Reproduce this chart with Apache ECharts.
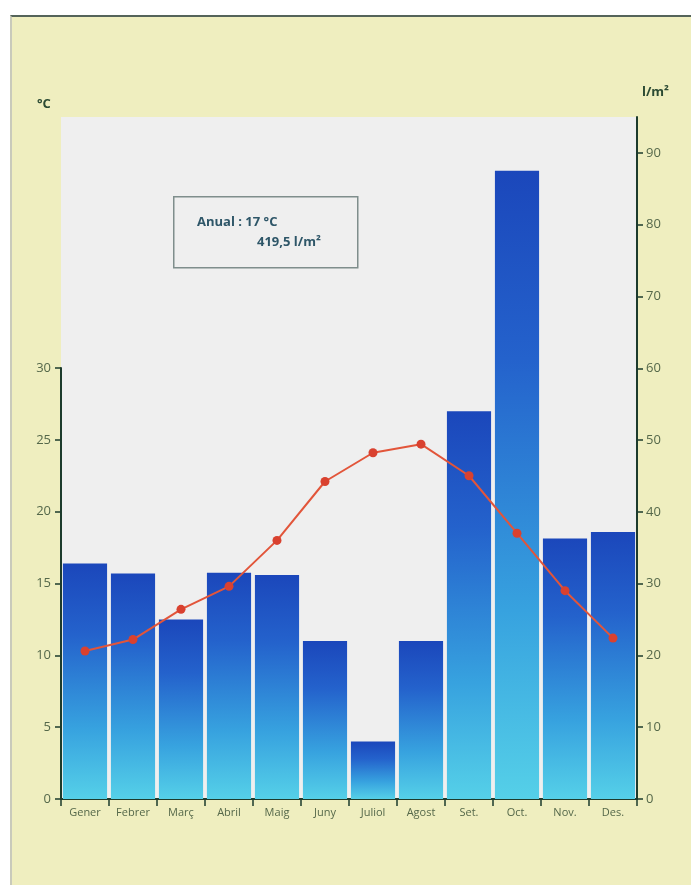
<!DOCTYPE html>
<html>
<head>
<meta charset="utf-8">
<script src="https://cdn.jsdelivr.net/npm/echarts@6/dist/echarts.min.js"></script>
<style>
  html, body { margin: 0; padding: 0; background: #ffffff; }
  #bg { position: absolute; left: 10px; top: 15px; width: 681px; height: 870px;
        background: #efeebf; border-top: 2px solid #55645a; border-left: 2px solid #c9cabb; box-sizing: border-box; }
  #chart { position: absolute; left: 0; top: 0; width: 691px; height: 885px; }
</style>
</head>
<body>
<div id="bg"></div>
<div id="chart"></div>
<script>
const months = ['Gener', 'Febrer', 'Març', 'Abril', 'Maig', 'Juny', 'Juliol', 'Agost', 'Set.', 'Oct.', 'Nov.', 'Des.'];
const precipitation = [32.8, 31.4, 25.0, 31.5, 31.2, 22.0, 8.0, 22.0, 54.0, 87.5, 36.3, 37.2];
const temperature = [10.3, 11.1, 13.2, 14.8, 18.0, 22.1, 24.1, 24.7, 22.5, 18.5, 14.5, 11.2];
const tempTicks = [0, 5, 10, 15, 20, 25, 30];
const precipTicks = [0, 10, 20, 30, 40, 50, 60, 70, 80, 90];
const annualTempText = 'Anual : 17 °C';
const annualPrecipText = '419,5 l/m²';

const axisColor = '#1d3b2c';
const labelColor = '#55684a';
const font = 'Open Sans';

const chart = echarts.init(document.getElementById('chart'), null, { renderer: 'canvas' });
chart.setOption({
  backgroundColor: 'transparent',
  animation: false,
  grid: [
    { left: 61, right: 54, top: 117, bottom: 86, show: true, backgroundColor: '#efefef', borderWidth: 0 },
    { left: 61, right: 54, bottom: 86, height: 431, show: false }
  ],
  xAxis: [
    {
      type: 'category', gridIndex: 0, data: months, boundaryGap: true,
      axisLine: { show: true, lineStyle: { color: axisColor, width: 2 } },
      axisTick: { show: true, length: 7, inside: false, lineStyle: { color: axisColor, width: 1.5 } },
      axisLabel: { color: labelColor, fontFamily: font, fontSize: 11, margin: 8 }
    },
    { type: 'category', gridIndex: 1, data: months, show: false, boundaryGap: true }
  ],
  yAxis: [
    {
      type: 'value', gridIndex: 0, position: 'right', min: 0, max: 95, interval: 10,
      axisLine: { show: true, lineStyle: { color: axisColor, width: 2 } },
      axisTick: { show: true, length: 6, customValues: precipTicks, lineStyle: { color: axisColor, width: 1.5 } },
      axisLabel: { customValues: precipTicks, color: labelColor, fontFamily: font, fontSize: 13, margin: 9 },
      splitLine: { show: false }
    },
    {
      type: 'value', gridIndex: 1, position: 'left', min: 0, max: 30, interval: 5,
      axisLine: { show: true, lineStyle: { color: axisColor, width: 2 } },
      axisTick: { show: true, length: 6, customValues: tempTicks, lineStyle: { color: axisColor, width: 1.5 } },
      axisLabel: { customValues: tempTicks, color: labelColor, fontFamily: font, fontSize: 13, margin: 10 },
      splitLine: { show: false }
    }
  ],
  series: [
    {
      type: 'bar', xAxisIndex: 0, yAxisIndex: 0, data: precipitation,
      barCategoryGap: '8%',
      itemStyle: {
        color: new echarts.graphic.LinearGradient(0, 0, 0, 1, [
          { offset: 0, color: '#1b47bb' },
          { offset: 0.3, color: '#2462cc' },
          { offset: 0.7, color: '#37a2df' },
          { offset: 1, color: '#55d0e8' }
        ])
      },
      z: 2
    },
    {
      type: 'line', xAxisIndex: 1, yAxisIndex: 1, data: temperature,
      symbol: 'circle', symbolSize: 9,
      lineStyle: { color: '#e2553a', width: 2 },
      itemStyle: { color: '#d9412f' },
      z: 5
    }
  ],
  graphic: [
    { type: 'text', left: 37, top: 98, style: { text: '°C', fill: '#2b4a33', font: 'bold 13px "Open Sans"' } },
    { type: 'text', left: 642, top: 86, style: { text: 'l/m²', fill: '#2b4a33', font: 'bold 13px "Open Sans"' } },
    { type: 'rect', left: 173, top: 196, shape: { width: 184, height: 71 },
      style: { fill: 'transparent', stroke: '#7f8e8c', lineWidth: 1.5 } },
    { type: 'text', left: 197, top: 216, style: { text: annualTempText, fill: '#2e5668', font: 'bold 13px "Open Sans"' } },
    { type: 'text', left: 257, top: 236, style: { text: annualPrecipText, fill: '#2e5668', font: 'bold 13px "Open Sans"' } }
  ]
});
</script>
</body>
</html>
